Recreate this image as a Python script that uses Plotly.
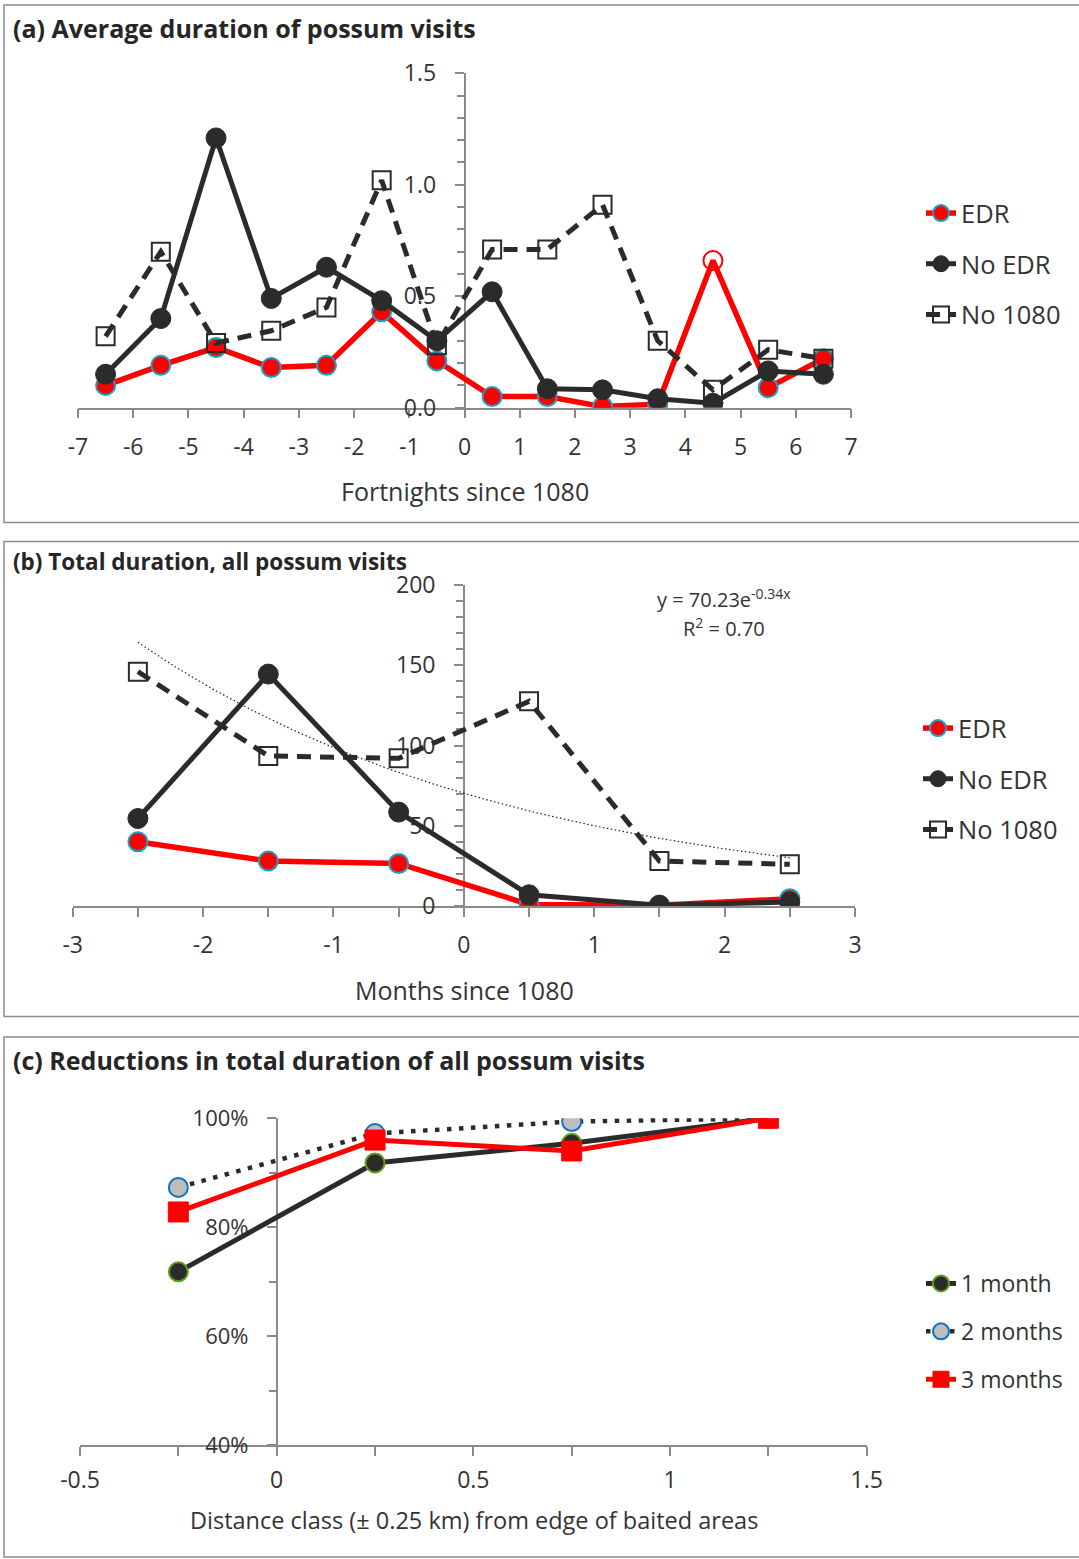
import numpy as np
import plotly.graph_objects as go

# ---------------- data ----------------
# (a) average duration of possum visits, by fortnight since 1080
fortnights = [-6.5, -5.5, -4.5, -3.5, -2.5, -1.5, -0.5, 0.5, 1.5, 2.5, 3.5, 4.5, 5.5, 6.5]
a_edr = [0.10, 0.19, 0.27, 0.18, 0.19, 0.43, 0.21, 0.05, 0.05, 0.005, 0.015, 0.66, 0.09, 0.22]
a_no_edr = [0.15, 0.40, 1.21, 0.49, 0.63, 0.48, 0.30, 0.52, 0.085, 0.08, 0.04, 0.02, 0.165, 0.15]
a_no_1080 = [0.32, 0.70, 0.29, 0.345, 0.45, 1.02, 0.28, 0.71, 0.71, 0.91, 0.30, 0.08, 0.26, 0.22]
a_edr_symbols = ["circle"] * 11 + ["circle-open"] + ["circle"] * 2

# (b) total duration of all possum visits, by month since 1080
months = [-2.5, -1.5, -0.5, 0.5, 1.5, 2.5]
b_edr = [40, 28, 26.5, 1, 0.5, 4.5]
b_no_edr = [54.5, 144.5, 58.5, 7, 0.5, 2.5]
b_no_1080 = [146, 93.5, 92, 127.5, 28, 26]
# exponential trendline for No 1080: y = 70.23 e^(-0.34x)
trend_a, trend_b = 70.23, -0.34
trend_r2 = 0.70

# (c) reductions in total duration (%) by distance class
distance = [-0.25, 0.25, 0.75, 1.25]
c_1m = [71.8, 91.8, 95.4, 100]
c_2m = [87.3, 97.2, 99.4, 100]
c_3m = [82.8, 96.0, 94.0, 100]

# tick labels
a_xticks = list(range(-7, 8))
a_yticks = [0.0, 0.5, 1.0, 1.5]
b_xticks = list(range(-3, 4))
b_yticks = [0, 50, 100, 150, 200]
c_xticks = [-0.5, 0, 0.5, 1, 1.5]
c_yticks = [40, 60, 80, 100]

# ---------------- styling ----------------
W, H = 1079, 1559
FONT = "Open Sans"
TEXT = "#333333"
AXIS = "#8a8a8a"
RED = "#ff0000"
DARK = "#2b2b2b"
TEAL = "#1aa0c4"
GREEN = "#5f9e1a"
BLUE = "#0b72c4"
GREY = "#bdbdbd"
DASH = "14px,9px"
TICK_SIZE = 23


def px_x(p):
    return p / W


def px_y(p):
    return 1 - p / H


def fmt(v):
    return ("%g" % v)


def x_axis(domain, rng, ticks, labels, minor_dtick, anchor, standoff=9):
    return dict(
        domain=domain, range=rng, anchor=anchor, automargin=False,
        tickmode="array", tickvals=ticks, ticktext=labels,
        ticks="outside", ticklen=9, tickwidth=1.5, tickcolor=AXIS,
        showline=True, linecolor=AXIS, linewidth=1.5,
        showgrid=False, zeroline=False,
        tickfont=dict(family=FONT, size=TICK_SIZE, color=TEXT),
        ticklabelstandoff=standoff,
        minor=dict(ticks="outside", dtick=minor_dtick, tick0=0, ticklen=9,
                   tickwidth=1.5, tickcolor=AXIS, showgrid=False),
        layer="below traces", fixedrange=True,
    )


def y_axis(domain, rng, ticks, labels, minor_dtick, position, size=TICK_SIZE):
    return dict(
        domain=domain, range=rng, anchor="free", position=position, automargin=False,
        tickmode="array", tickvals=ticks, ticktext=labels,
        ticks="outside", ticklen=9, tickwidth=1.5, tickcolor=AXIS,
        showline=True, linecolor=AXIS, linewidth=1.5,
        showgrid=False, zeroline=False,
        tickfont=dict(family=FONT, size=size, color=TEXT),
        ticklabelstandoff=14,
        minor=dict(ticks="outside", dtick=minor_dtick, tick0=0, ticklen=7,
                   tickwidth=1.5, tickcolor=AXIS, showgrid=False),
        layer="below traces", fixedrange=True,
    )


fig = go.Figure()

# ---------------- panel (a) ----------------
fig.add_trace(go.Scatter(
    x=fortnights, y=a_edr, name="EDR", mode="lines+markers",
    line=dict(color=RED, width=5.5),
    marker=dict(symbol=a_edr_symbols, size=19, color=RED,
                line=dict(color=[TEAL] * 11 + [RED] + [TEAL] * 2, width=2)),
    xaxis="x", yaxis="y", legend="legend", legendgroup="a1",
))
fig.add_trace(go.Scatter(
    x=fortnights, y=a_no_edr, name="No EDR", mode="lines+markers",
    line=dict(color=DARK, width=5),
    marker=dict(symbol="circle", size=20, color=DARK, line=dict(color=DARK, width=1)),
    xaxis="x", yaxis="y", legend="legend", legendgroup="a2",
))
fig.add_trace(go.Scatter(
    x=fortnights, y=a_no_1080, name="No 1080", mode="lines+markers",
    line=dict(color=DARK, width=5, dash=DASH),
    marker=dict(symbol="square-open", size=18, color=DARK, line=dict(width=2)),
    xaxis="x", yaxis="y", legend="legend", legendgroup="a3",
))

# ---------------- panel (b) ----------------
fig.add_trace(go.Scatter(
    x=months, y=b_edr, name="EDR", mode="lines+markers",
    line=dict(color=RED, width=5.5),
    marker=dict(symbol="circle", size=19, color=RED, line=dict(color=TEAL, width=2)),
    xaxis="x2", yaxis="y2", legend="legend2", legendgroup="b1",
))
fig.add_trace(go.Scatter(
    x=months, y=b_no_edr, name="No EDR", mode="lines+markers",
    line=dict(color=DARK, width=5),
    marker=dict(symbol="circle", size=20, color=DARK, line=dict(color=DARK, width=1)),
    xaxis="x2", yaxis="y2", legend="legend2", legendgroup="b2",
))
fig.add_trace(go.Scatter(
    x=months, y=b_no_1080, name="No 1080", mode="lines+markers",
    line=dict(color=DARK, width=5, dash=DASH),
    marker=dict(symbol="square-open", size=18, color=DARK, line=dict(width=2)),
    xaxis="x2", yaxis="y2", legend="legend2", legendgroup="b3",
))
trend_x = np.linspace(months[0], months[-1], 120)
trend_y = trend_a * np.exp(trend_b * trend_x)
fig.add_trace(go.Scatter(
    x=trend_x, y=trend_y, mode="lines", showlegend=False, hoverinfo="skip",
    line=dict(color="#222222", width=1.2, dash="1.5px,2.5px"),
    xaxis="x2", yaxis="y2",
))

# ---------------- panel (c) ----------------
fig.add_trace(go.Scatter(
    x=distance, y=c_1m, name="1 month", mode="lines+markers",
    line=dict(color=DARK, width=5),
    marker=dict(symbol="circle", size=19, color=DARK, line=dict(color=GREEN, width=2)),
    xaxis="x3", yaxis="y3", legend="legend3", legendgroup="c1",
))
fig.add_trace(go.Scatter(
    x=distance, y=c_2m, name="2 months", mode="lines+markers",
    line=dict(color=DARK, width=4.5, dash="4.5px,7.5px"),
    marker=dict(symbol="circle", size=19, color=GREY, line=dict(color=BLUE, width=2)),
    xaxis="x3", yaxis="y3", legend="legend3", legendgroup="c2",
))
fig.add_trace(go.Scatter(
    x=distance, y=c_3m, name="3 months", mode="lines+markers",
    line=dict(color=RED, width=5),
    marker=dict(symbol="square", size=20, color=RED, line=dict(color=RED, width=1)),
    xaxis="x3", yaxis="y3", legend="legend3", legendgroup="c3",
))

# ---------------- axes ----------------
a_dom_x = [px_x(78), px_x(851)]
b_dom_x = [px_x(72.7), px_x(855)]
c_dom_x = [px_x(80), px_x(866.7)]

fig.update_layout(
    xaxis=x_axis(a_dom_x, [-7, 7], a_xticks, [fmt(v) for v in a_xticks], 1, "y"),
    yaxis=y_axis([px_y(407.7), px_y(73.3)], [0, 1.5], a_yticks,
                 ["%.1f" % v for v in a_yticks], 0.1, sum(a_dom_x) / 2),
    xaxis2=x_axis(b_dom_x, [-3, 3], b_xticks, [fmt(v) for v in b_xticks], 0.5, "y2"),
    yaxis2=y_axis([px_y(906), px_y(585)], [0, 200], b_yticks,
                  [fmt(v) for v in b_yticks], 10, sum(b_dom_x) / 2),
    xaxis3=x_axis(c_dom_x, [-0.5, 1.5], c_xticks, [fmt(v) for v in c_xticks], 0.25, "y3",
                  standoff=5),
    yaxis3=y_axis([px_y(1445), px_y(1118.3)], [40, 100], c_yticks,
                  ["%d%%" % v for v in c_yticks], 10,
                  c_dom_x[0] + (c_dom_x[1] - c_dom_x[0]) * 0.25, size=22),
)

# ---------------- legends ----------------
legend_style = dict(
    bgcolor="rgba(0,0,0,0)", xanchor="left", yanchor="top",
    itemclick=False, itemdoubleclick=False,
)
big_legend_font = dict(family=FONT, size=25.5, color=TEXT)
fig.update_layout(
    legend=dict(x=px_x(921), y=px_y(190), font=big_legend_font, tracegroupgap=14.5,
                **legend_style),
    legend2=dict(x=px_x(918), y=px_y(705), font=big_legend_font, tracegroupgap=14.5,
                 **legend_style),
    legend3=dict(x=px_x(921), y=px_y(1262), font=dict(family=FONT, size=23, color=TEXT),
                 tracegroupgap=15, **legend_style),
)

# ---------------- panel frames ----------------
frames = [(5, 522.5), (541.5, 1016.5), (1037, 1557)]
shapes = []
for top, bottom in frames:
    shapes.append(dict(type="rect", xref="paper", yref="paper",
                       x0=px_x(4), x1=px_x(1085), y0=px_y(bottom), y1=px_y(top),
                       line=dict(color="#8c8c8c", width=1.5), fillcolor="rgba(0,0,0,0)",
                       layer="below"))

# ---------------- text ----------------
annotations = []
titles = [
    ("(a) Average duration of possum visits", 28, 25),
    ("(b) Total duration, all possum visits", 561, 22.5),
    ("(c) Reductions in total duration of all possum visits", 1060, 25),
]
for text, ypx, size in titles:
    annotations.append(dict(text="<b>%s</b>" % text, xref="paper", yref="paper",
                            x=px_x(11), y=px_y(ypx), xanchor="left", yanchor="middle",
                            showarrow=False, font=dict(family=FONT, size=size, color="#262626")))

axis_titles = [
    ("Fortnights since 1080", 465, 491, 25),
    ("Months since 1080", 464, 990, 25),
    ("Distance class (\u00b1 0.25 km) from edge of baited areas", 474, 1520, 23.5),
]
for text, xpx, ypx, size in axis_titles:
    annotations.append(dict(text=text, xref="paper", yref="paper",
                            x=px_x(xpx), y=px_y(ypx), xanchor="center", yanchor="middle",
                            showarrow=False, font=dict(family=FONT, size=size, color=TEXT)))

annotations.append(dict(
    text="y = %.2fe<sup>%.2fx</sup>" % (trend_a, trend_b), xref="paper", yref="paper",
    x=px_x(724), y=px_y(598), xanchor="center", yanchor="middle", showarrow=False,
    font=dict(family=FONT, size=20, color=TEXT)))
annotations.append(dict(
    text="R<sup>2</sup> = %.2f" % trend_r2, xref="paper", yref="paper",
    x=px_x(724), y=px_y(627), xanchor="center", yanchor="middle", showarrow=False,
    font=dict(family=FONT, size=20, color=TEXT)))

fig.update_layout(
    width=W, height=H, margin=dict(l=0, r=0, t=0, b=0, autoexpand=False),
    paper_bgcolor="white", plot_bgcolor="rgba(0,0,0,0)",
    font=dict(family=FONT, color=TEXT),
    shapes=shapes, annotations=annotations, hovermode=False,
)

fig.write_html("out.html")
